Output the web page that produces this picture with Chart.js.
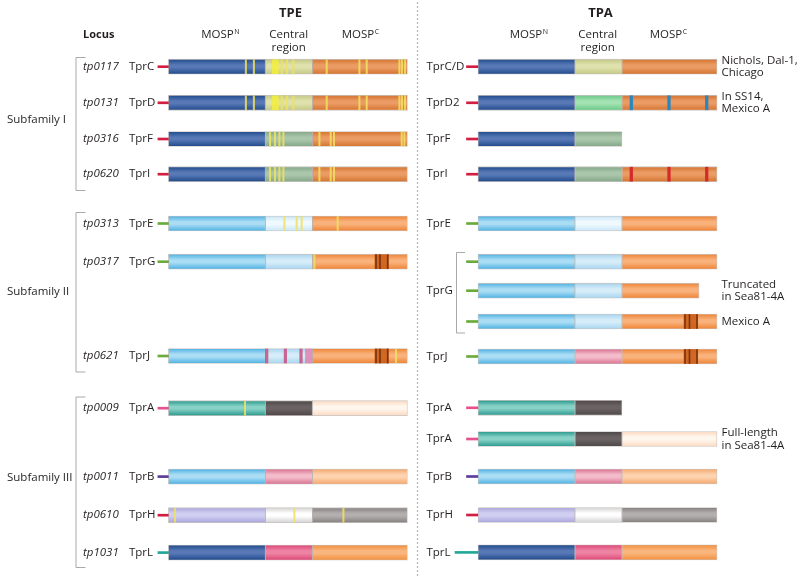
<!DOCTYPE html>
<html>
<head>
<meta charset="utf-8">
<script src="https://cdn.jsdelivr.net/npm/chart.js@4.4.1/dist/chart.umd.min.js"></script>
<style>
html,body{margin:0;padding:0;background:#fff}
canvas{display:block}
</style>
</head>
<body>
<canvas id="chart" width="800" height="576"></canvas>
<script>
// ---- DATA ----
// TPE loci and genes (top to bottom)
const tpeLoci = ["tp0117","tp0131","tp0316","tp0620","tp0313","tp0317","tp0621","tp0009","tp0011","tp0610","tp1031"];
const tpeGenes = ["TprC","TprD","TprF","TprI","TprE","TprG","TprJ","TprA","TprB","TprH","TprL"];
// TPA rows (TprG has three variants, label on middle one)
const tpaGenes = ["TprC/D","TprD2","TprF","TprI","TprE","","TprG","","TprJ","TprA","TprA","TprB","TprH","TprL"];
const tpaNotes = [["Nichols, Dal-1,","Chicago"],["In SS14,","Mexico A"],[],[],[],[],["Truncated","in Sea81-4A"],["Mexico A"],[],[],["Full-length","in Sea81-4A"],[],[],[]];
const subfamilies = ["Subfamily I","Subfamily II","Subfamily III"];
const regionNames = ["MOSP", "Central region", "MOSP"];

// region ends along the protein: MOSP-N end, central end, MOSP-C end
const tpeEnds = [[97,144,239],[97,144,239],[97,144,239],[97,144,239],[97,144,239],[97,144,239],[97,144,239],[97,144,239],[97,144,239],[97,144,239],[97,144,239]];
const tpaEnds = [[97,144,239],[97,144,239],[97,144],[97,144,239],[97,144,239],[97,144,239],[97,144,221],[97,144,239],[97,144,239],[97,144],[97,144,239],[97,144,239],[97,144,239],[97,144,239]];

// variable sites [row, position]
const tpeYellowSites = [
  [0,77.5],[0,85.5],[0,113.3],[0,118.6],[0,125],[0,158.3],[0,191],[0,198.3],[0,231],[0,233.6],[0,236.6],
  [1,77.5],[1,85.5],[1,113.3],[1,118.6],[1,125],[1,158.3],[1,191],[1,198.3],[1,231],[1,233.6],[1,236.6],
  [2,101.6],[2,106.6],[2,111],[2,115],[2,151],[2,162.3],[2,165.6],[2,233.3],[2,236],
  [3,101.6],[3,106.6],[3,111],[3,115],[3,151],[3,162.3],[3,165.6],
  [4,116],[4,128.3],[4,133.3],[4,169.3],
  [5,146],
  [6,227.6],
  [7,76.6],
  [9,6.6],[9,126],[9,175]
];
const tpeYellowBlocks = [[0,104,110],[1,104,110]];
const tpePinkSites = [[6,98.3],[6,117],[6,132.6]];
const tpePinkBlocks = [[6,137,143.5]];
const tpeDarkBlocks = [[5,206.5,220],[6,206.5,220]];
const tpeDarkLines = [[5,207.6],[5,211.6],[5,219.3],[6,207.6],[6,211.6],[6,219.3]];
const tpaBlueSites = [[1,153.3],[1,191],[1,228.7]];
const tpaRedSites = [[3,153.3],[3,191],[3,228.7]];
const tpaDarkBlocks = [[7,206,219.7],[8,206,219.7]];
const tpaDarkLines = [[7,207],[7,211.5],[7,219],[8,207],[8,211.5],[8,219]];

// ---- LAYOUT / STYLE ----
const tpeRowY = [66.7,102.8,139,174.2,223.5,261.7,356,408.2,476.6,515.2,552.6];
const tpaRowY = [66.7,102.8,139,174.2,223.5,261.7,290.7,321.5,356.5,407.8,439,476.5,515,552.4];
const subRowY = [120,291.7,478];
const tpaShift = 309.6;   // TPA panel offset along x
const BAR_H = 15;

const pal = {
  blue:   ["#1f4a8b","#5878b6"],
  olive:  ["#c3c985","#dfe2ad"],
  orange: ["#d4722f","#eb9c64"],
  sage:   ["#83a688","#aac6ab"],
  green:  ["#69c887","#a3e2b2"],
  sky:    ["#4cb1e2","#abddf4"],
  ice:    ["#c8e6f7","#f0f9fe"],
  pale:   ["#a6d4ef","#d6edf9"],
  bright: ["#ee8334","#f9b27c"],
  teal:   ["#28998d","#88d1c7"],
  dgrey:  ["#4d4747","#6b6363"],
  peach:  ["#fcdac1","#fff6ee"],
  pink:   ["#d97190","#f3bccb"],
  lorange:["#f5a76b","#fdd3b0"],
  lav:    ["#a9a5db","#d1cff1"],
  white:  ["#d2d2d2","#ffffff"],
  grey:   ["#858080","#b3afaf"],
  rose:   ["#dd4776","#ee84a3"],
  lorng:  ["#f28f3d","#f9b67e"]
};
const tpeColors = [
  ["blue","olive","orange"],["blue","olive","orange"],["blue","sage","orange"],["blue","sage","orange"],
  ["sky","ice","bright"],["sky","pale","bright"],["sky","pale","bright"],
  ["teal","dgrey","peach"],["sky","pink","lorange"],["lav","white","grey"],["blue","rose","lorng"]
];
const tpaColors = [
  ["blue","olive","orange"],["blue","green","orange"],["blue","sage"],["blue","sage","orange"],
  ["sky","ice","bright"],["sky","pale","bright"],["sky","pale","bright"],["sky","pale","bright"],["sky","pink","bright"],
  ["teal","dgrey"],["teal","dgrey","peach"],["sky","pink","lorange"],["lav","white","grey"],["blue","rose","lorng"]
];
const RED="#d21f40", GRN="#6aab3c", PNK="#e6508c", PUR="#5b3c9c", TEAL="#22a898";
const tpeLeader = [RED,RED,RED,RED,GRN,GRN,GRN,PNK,PUR,RED,TEAL];
const tpaLeader = [RED,RED,RED,RED,GRN,GRN,GRN,GRN,GRN,PNK,PNK,PUR,RED,TEAL];

// ---- BUILD DATASETS ----
const segData = [], segFill = [];
const leadData = [], leadColor = [];
function addRows(ends, colors, rowY, leaders, shift, leadLen){
  ends.forEach((e, r) => {
    let start = 0;
    e.forEach((end, k) => {
      segData.push({x:[start+shift, end+shift], y:rowY[r]});
      segFill.push(pal[colors[r][k]]);
      start = end;
    });
    leadData.push({x:[shift-leadLen, shift], y:rowY[r]});
    leadColor.push(leaders[r]);
  });
}
addRows(tpeEnds, tpeColors, tpeRowY, tpeLeader, 0, 10.5);
addRows(tpaEnds, tpaColors, tpaRowY, tpaLeader, tpaShift, 11.5);
leadData[leadData.length-1].x[0] = tpaShift - 23;  // longer TprL stub in TPA

const lineData = [], lineColor = [];
function addSites(list, rowY, shift, w, col){
  list.forEach(([r,p]) => { lineData.push({x:[p-w/2+shift, p+w/2+shift], y:rowY[r]}); lineColor.push(col); });
}
function addBlocks(list, rowY, shift, col){
  list.forEach(([r,a,b]) => { lineData.push({x:[a+shift, b+shift], y:rowY[r]}); lineColor.push(col); });
}
addBlocks(tpeDarkBlocks, tpeRowY, 0, "rgba(205,95,25,0.9)");
addBlocks(tpaDarkBlocks, tpaRowY, tpaShift, "rgba(205,95,25,0.9)");
addBlocks(tpeYellowBlocks, tpeRowY, 0, "rgba(245,240,50,0.8)");
addBlocks(tpePinkBlocks, tpeRowY, 0, "rgba(225,130,175,0.85)");
addSites(tpeYellowSites, tpeRowY, 0, 1.4, "rgba(240,226,95,0.85)");
addSites(tpePinkSites, tpeRowY, 0, 2.6, "rgba(200,80,130,0.85)");
addSites(tpeDarkLines, tpeRowY, 0, 1, "#7a3510");
addSites(tpaDarkLines, tpaRowY, tpaShift, 1, "#7a3510");
addSites(tpaBlueSites, tpaRowY, tpaShift, 2.6, "#2a86bf");
addSites(tpaRedSites, tpaRowY, tpaShift, 2.6, "#d42a2a");

function gradient(c, i){
  const chart = c.chart;
  if (!chart.chartArea) return segFill[i][0];
  const y = chart.scales.y.getPixelForValue(segData[i].y);
  const g = chart.ctx.createLinearGradient(0, y-BAR_H/2, 0, y+BAR_H/2);
  const [base, light] = segFill[i];
  g.addColorStop(0, base);
  g.addColorStop(0.38, light);
  g.addColorStop(0.55, light);
  g.addColorStop(1, base);
  return g;
}

// ---- TEXT / DECORATION PLUGIN ----
const FONT = '"Open Sans", sans-serif';
const textPlugin = {
  id: "text",
  afterDatasetsDraw(chart){
    const ctx = chart.ctx;
    ctx.save();
    // divider
    ctx.strokeStyle = "#b8b8b8";
    ctx.lineWidth = 1.3;
    ctx.setLineDash([2,2]);
    ctx.beginPath(); ctx.moveTo(417.5, 2); ctx.lineTo(417.5, 576); ctx.stroke();
    ctx.setLineDash([]);
    // brackets
    ctx.strokeStyle = "#a9a9a9";
    ctx.lineWidth = 1;
    const br = (x, y0, y1, w) => {
      ctx.beginPath();
      ctx.moveTo(x+w, y0+0.5); ctx.lineTo(x+0.5, y0+0.5); ctx.lineTo(x+0.5, y1+0.5); ctx.lineTo(x+w, y1+0.5);
      ctx.stroke();
    };
    br(75.5, 57, 190, 10);
    br(75.5, 212, 371.5, 10);
    br(75.5, 396.5, 567, 10);
    br(456, 252, 332.5, 9);

    ctx.fillStyle = "#231f20";
    ctx.textBaseline = "middle";
    // titles
    ctx.textAlign = "center";
    ctx.font = "bold 13px " + FONT;
    ctx.fillText("TPE", 290.5, 13);
    ctx.fillText("TPA", 600.5, 13);
    ctx.textAlign = "left";
    ctx.font = "bold 11px " + FONT;
    ctx.fillText("Locus", 83, 35);

    // region headers
    const sup = (x, letter) => {
      ctx.font = "11.5px " + FONT;
      const w = ctx.measureText(regionNames[0]).width;
      const w2 = 6;
      const x0 = x - (w + w2)/2;
      ctx.textAlign = "left";
      ctx.fillText(regionNames[0], x0, 35);
      ctx.font = "7px " + FONT;
      ctx.fillText(letter, x0 + w + 0.5, 31.5);
    };
    const heads = (xN, xC, xCt) => {
      sup(xN, "N");
      sup(xC, "C");
      ctx.font = "11.5px " + FONT;
      ctx.textAlign = "center";
      const parts = regionNames[1].split(" ");
      ctx.fillText(parts[0], xCt, 35);
      ctx.fillText(parts[1], xCt, 48);
    };
    heads(220.5, 361, 288.7);
    heads(529, 669, 597.7);

    // subfamily labels
    ctx.textAlign = "left";
    ctx.font = "11.5px " + FONT;
    subfamilies.forEach((s, i) => ctx.fillText(s, 7, subRowY[i]));

    // row labels
    tpeLoci.forEach((l, i) => {
      ctx.font = "italic 11.5px " + FONT;
      ctx.fillText(l, 83, tpeRowY[i]);
      ctx.font = "11.5px " + FONT;
      ctx.fillText(tpeGenes[i], 129, tpeRowY[i]);
    });
    ctx.font = "11.5px " + FONT;
    tpaGenes.forEach((g, i) => { if (g) ctx.fillText(g, 426.5, tpaRowY[i]); });
    tpaNotes.forEach((n, i) => {
      if (n.length === 1) ctx.fillText(n[0], 721.5, tpaRowY[i]);
      if (n.length === 2) { ctx.fillText(n[0], 721.5, tpaRowY[i]-6.3); ctx.fillText(n[1], 721.5, tpaRowY[i]+6.3); }
    });
    ctx.restore();
  }
};

new Chart(document.getElementById("chart"), {
  type: "bar",
  data: {
    datasets: [
      {
        label: "sites", data: lineData, order: 1, grouped: false,
        backgroundColor: lineColor, borderWidth: 0, barThickness: BAR_H - 1
      },
      {
        label: "regions", data: segData, order: 2, grouped: false,
        backgroundColor: c => gradient(c, c.dataIndex),
        borderColor: "rgba(60,40,30,0.28)", borderWidth: 0.8, borderSkipped: false,
        barThickness: BAR_H
      },
      {
        label: "stubs", data: leadData, order: 3, grouped: false,
        backgroundColor: leadColor, borderWidth: 0, barThickness: 2
      }
    ]
  },
  options: {
    indexAxis: "y",
    responsive: false,
    animation: false,
    layout: { padding: 0 },
    scales: {
      x: { type: "linear", min: -168.4, max: 631.6, display: false },
      y: { type: "linear", min: 0, max: 576, reverse: true, offset: false, display: false }
    },
    plugins: { legend: { display: false }, tooltip: { enabled: false } }
  },
  plugins: [textPlugin]
});
</script>
</body>
</html>
